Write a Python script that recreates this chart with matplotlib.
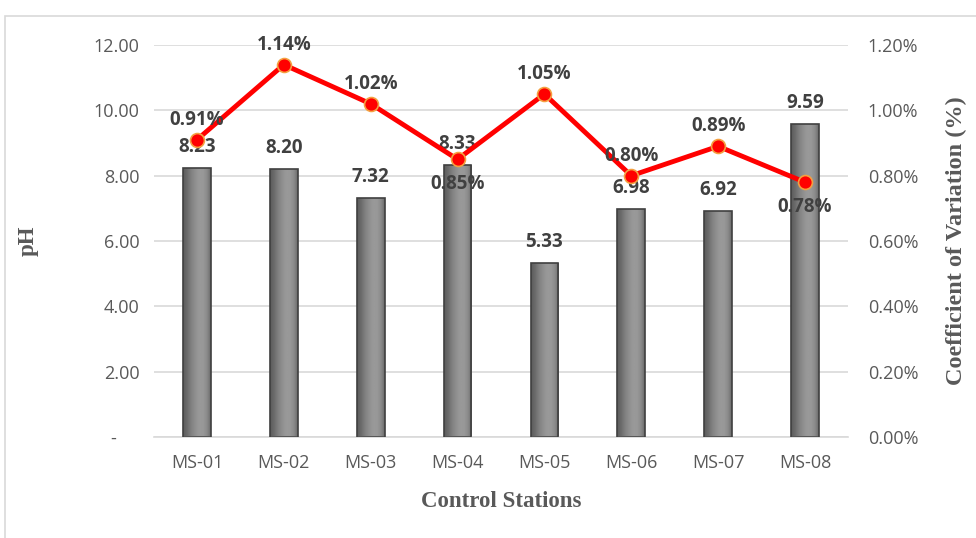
import numpy as np
import matplotlib.pyplot as plt
from matplotlib.patches import Rectangle
from matplotlib.ticker import FuncFormatter

# pH and coefficient of variation per control station
stations = ["MS-01", "MS-02", "MS-03", "MS-04", "MS-05", "MS-06", "MS-07", "MS-08"]
ph = [8.23, 8.20, 7.32, 8.33, 5.33, 6.98, 6.92, 9.59]
cv = [0.91, 1.14, 1.02, 0.85, 1.05, 0.80, 0.89, 0.78]
cv_label_below = [False, False, False, True, False, False, False, True]

tick_color = "#595959"
label_color = "#404040"

fig = plt.figure(figsize=(9.76, 5.38), dpi=100)
ax = fig.add_axes([0.1573, 0.1877, 0.712, 0.7286])
ax2 = ax.twinx()

# chart border
fig.patches.append(Rectangle((5 / 976, -0.05), 1.1, 1 - 16 / 538 + 0.05,
                             transform=fig.transFigure, fill=False,
                             edgecolor="#d9d9d9", linewidth=1.2, zorder=0))

x = np.arange(len(stations))
width = 0.32

# bars with a horizontal grey gradient
grad = np.array([0.36, 0.42, 0.50, 0.56, 0.60, 0.60, 0.55, 0.42])
grad = np.interp(np.linspace(0, 7, 64), np.arange(8), grad)[None, :]
bars = ax.bar(x, ph, width, color="none", edgecolor="#404040", linewidth=1.2, zorder=3)
for b in bars:
    im = ax.imshow(grad, cmap="gray", vmin=0, vmax=1, aspect="auto",
                   extent=[b.get_x(), b.get_x() + b.get_width(), 0, b.get_height()],
                   zorder=2, interpolation="bicubic")
    im.set_clip_path(b)
for xi, v in zip(x, ph):
    ax.text(xi, v + 0.33, f"{v:.2f}", ha="center", va="bottom", fontsize=13.5,
            fontweight="bold", color=label_color, family="Open Sans", zorder=6)

ax.set_xlim(-0.5, len(stations) - 0.5)
ax.set_ylim(0, 12)
ax.set_yticks(np.arange(0, 12.1, 2))
ax.yaxis.set_major_formatter(FuncFormatter(lambda v, p: "-     " if v == 0 else f"{v:.2f}"))
ax.set_xticks(x)
ax.set_xticklabels(stations)
ax.grid(axis="y", color="#d9d9d9", linewidth=1.2, zorder=0)
ax.set_axisbelow(True)

# coefficient of variation line
ax2.plot(x, cv, color="#ff0000", linewidth=3.5, marker="o", markersize=10,
         markerfacecolor="#ff0000", markeredgecolor="#f4a040", markeredgewidth=1.2,
         zorder=5)
for xi, v, below in zip(x, cv, cv_label_below):
    ax2.text(xi, v + (-0.045 if below else 0.03), f"{v:.2f}%", ha="center",
             va="top" if below else "bottom", fontsize=13.5, fontweight="bold",
             color=label_color, family="Open Sans", zorder=6)
ax2.set_ylim(0, 1.2)
ax2.set_yticks(np.arange(0, 1.21, 0.2))
ax2.yaxis.set_major_formatter(FuncFormatter(lambda v, p: f"{v:.2f}%"))

for a in (ax, ax2):
    for s in a.spines.values():
        s.set_visible(False)
    a.tick_params(length=0, labelsize=13, labelcolor=tick_color)
    for t in a.get_xticklabels() + a.get_yticklabels():
        t.set_family("Open Sans")
ax.spines["bottom"].set_visible(True)
ax.spines["bottom"].set_color("#d9d9d9")
ax.spines["bottom"].set_linewidth(1.2)
ax.tick_params(axis="y", pad=10)
ax.tick_params(axis="x", pad=12)
ax2.tick_params(axis="y", pad=14)

ax.set_xlabel("Control Stations", family="Liberation Serif", fontweight="bold",
              fontsize=16.5, color=tick_color, labelpad=14)
ax.set_ylabel("pH", family="Liberation Serif", fontweight="bold",
              fontsize=16.5, color=tick_color, labelpad=40)
ax2.set_ylabel("Coefficient of Variation (%)", family="Liberation Serif",
               fontweight="bold", fontsize=17.5, color=tick_color, labelpad=20)

fig.savefig("out.png", dpi=100)
